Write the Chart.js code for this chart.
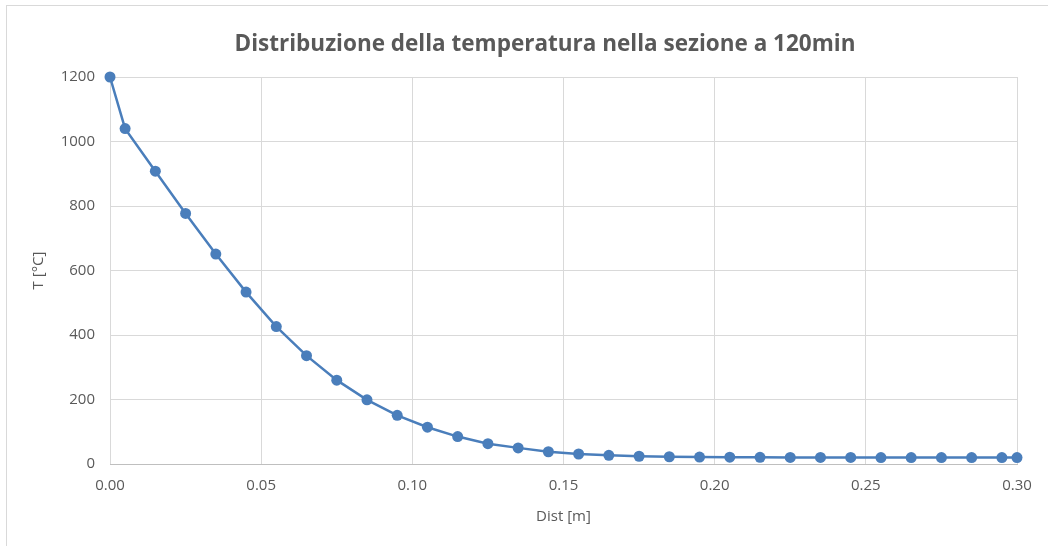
<!DOCTYPE html>
<html lang="it">
<head>
<meta charset="UTF-8" />
<title>Distribuzione della temperatura</title>
<script src="https://cdn.jsdelivr.net/npm/chart.js"></script>
<style>
  html, body { margin: 0; padding: 0; background: #fff; }
  .frame {
    position: absolute; left: 6px; top: 5px; width: 1100px; height: 600px;
    border-left: 1px solid #d9d9d9; border-top: 1px solid #d9d9d9;
  }
  .wrap { position: absolute; left: 0; top: 0; width: 1048px; height: 546px; }
</style>
</head>
<body>
<div class="frame"></div>
<div class="wrap"><canvas id="chart"></canvas></div>
<script>
// distanza [m]
const dist = [0, 0.005, 0.015, 0.025, 0.035, 0.045, 0.055, 0.065, 0.075, 0.085, 0.095,
  0.105, 0.115, 0.125, 0.135, 0.145, 0.155, 0.165, 0.175, 0.185, 0.195,
  0.205, 0.215, 0.225, 0.235, 0.245, 0.255, 0.265, 0.275, 0.285, 0.295, 0.30];
// temperatura [°C] a 120 min
const temp = [1200, 1040, 908, 777, 651, 533, 426, 336, 260, 199, 151,
  114, 85, 63, 50, 38, 31, 27, 24, 22.5, 21.5,
  21, 20.6, 20.4, 20.3, 20.2, 20.1, 20.1, 20, 20, 20, 20];

const xTicks = [0, 0.05, 0.10, 0.15, 0.20, 0.25, 0.30];
const yTicks = [0, 200, 400, 600, 800, 1000, 1200];

const titleText = 'Distribuzione della temperatura nella sezione a 120min';
const textColor = '#595959';
const gridColor = '#d9d9d9';
const blue = '#4a7ebb';
const fontFamily = '"Open Sans", "Noto Sans", sans-serif';

// title centred on the whole picture, like the Excel original
const centredTitle = {
  id: 'centredTitle',
  afterDraw(chart) {
    const ctx = chart.ctx;
    ctx.save();
    ctx.font = 'bold 22.5px ' + fontFamily;
    ctx.fillStyle = textColor;
    ctx.textAlign = 'center';
    ctx.textBaseline = 'middle';
    ctx.fillText(titleText, 545, 45);
    ctx.restore();
  }
};

new Chart(document.getElementById('chart'), {
  type: 'line',
  data: {
    datasets: [{
      label: 'T',
      data: dist.map((d, i) => ({ x: d, y: temp[i] })),
      borderColor: blue,
      backgroundColor: blue,
      borderWidth: 2.5,
      pointRadius: 5.5,
      pointHoverRadius: 5.5,
      pointBorderWidth: 0,
      tension: 0,
      fill: false,
      clip: false
    }]
  },
  options: {
    responsive: true,
    maintainAspectRatio: false,
    animation: false,
    layout: { padding: { left: 0, right: 31, top: 77, bottom: 0 } },
    plugins: {
      legend: { display: false },
      tooltip: { enabled: false },
      title: { display: false }
    },
    scales: {
      x: {
        type: 'linear',
        min: 0,
        max: 0.30,
        afterBuildTicks: s => { s.ticks = xTicks.map(v => ({ value: v })); },
        afterFit: s => { s.height = 82; },
        ticks: {
          color: textColor,
          font: { family: fontFamily, size: 15 },
          padding: 13,
          maxRotation: 0,
          callback: v => v.toFixed(2)
        },
        grid: { color: gridColor, lineWidth: 1, drawTicks: false },
        border: { color: '#bfbfbf', width: 1 },
        title: {
          display: true,
          text: 'Dist [m]',
          color: textColor,
          font: { family: fontFamily, size: 15 },
          padding: { top: 0, bottom: 20 }
        }
      },
      y: {
        type: 'linear',
        min: 0,
        max: 1200,
        afterBuildTicks: s => { s.ticks = yTicks.map(v => ({ value: v })); },
        afterFit: s => { s.width = 110; },
        ticks: {
          color: textColor,
          font: { family: fontFamily, size: 15 },
          padding: 15,
          callback: v => String(v)
        },
        grid: { color: gridColor, lineWidth: 1, drawTicks: false },
        border: { display: false },
        title: {
          display: true,
          text: 'T [°C]',
          color: textColor,
          font: { family: fontFamily, size: 15 },
          padding: { top: 30, bottom: 0 }
        }
      }
    }
  },
  plugins: [centredTitle]
});
</script>
</body>
</html>
